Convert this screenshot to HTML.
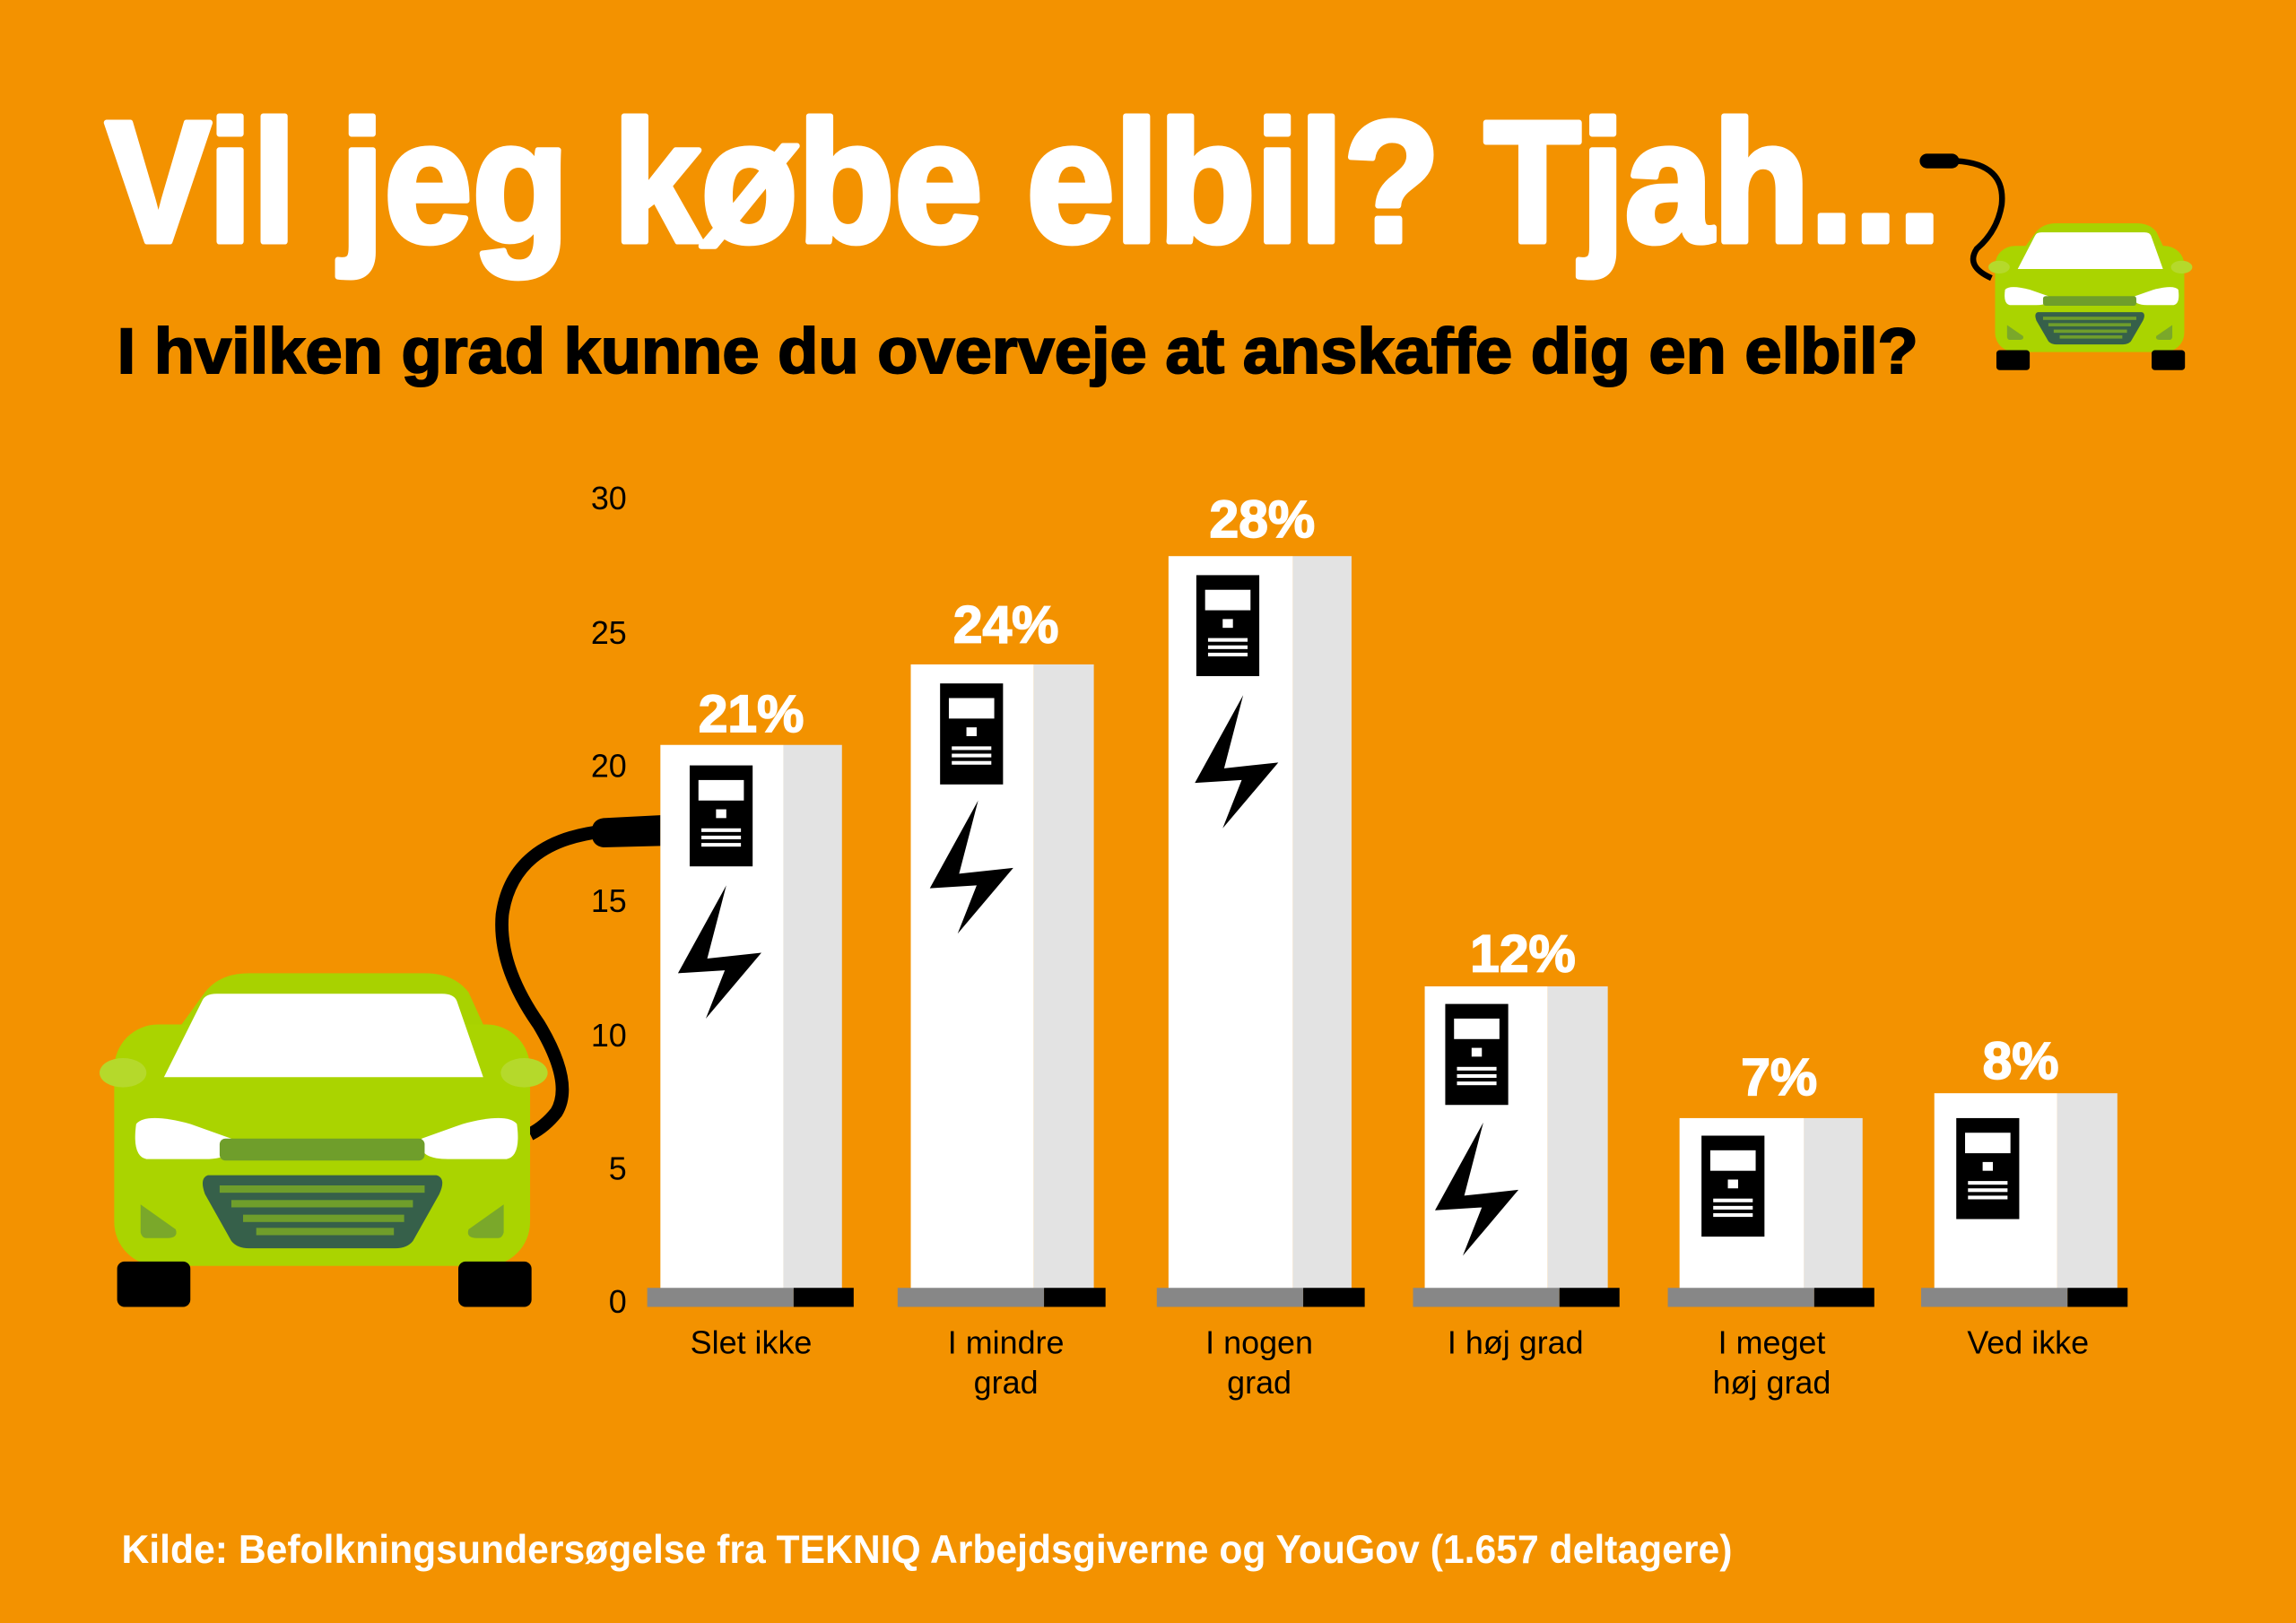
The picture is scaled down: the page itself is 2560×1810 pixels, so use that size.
<!DOCTYPE html>
<html><head><meta charset="utf-8"><style>
html,body{margin:0;padding:0;background:#f39200;}
svg{display:block;}
</style></head><body>
<svg width="2560" height="1810" viewBox="0 0 1568 1109" preserveAspectRatio="none" xmlns="http://www.w3.org/2000/svg" font-family="Liberation Sans, sans-serif">
<rect width="1568" height="1109" fill="#f39200"/>
<defs>
<g id="car">
  <path d="M100,733 L140,678 Q150,665 170,665 L290,665 Q310,665 320,678 L345,733 Z" fill="#a8d200"/>
  <rect x="78" y="700" width="284" height="165" rx="30" fill="#aad400"/>
  <path d="M112,736 L138,684 Q140,679 148,679 L302,679 Q310,679 312,684 L330,736 Z" fill="#fff"/>
  <ellipse cx="84" cy="733" rx="16" ry="10" fill="#b5d92b"/>
  <ellipse cx="358" cy="733" rx="16" ry="10" fill="#b5d92b"/>
  <path d="M93,768 Q100,760 130,768 L158,778 Q162,792 140,792 L100,792 Q90,790 93,768 Z" fill="#fff"/>
  <path d="M353,768 Q346,760 316,768 L288,778 Q284,792 306,792 L346,792 Q356,790 353,768 Z" fill="#fff"/>
  <rect x="150" y="778" width="140" height="15" rx="4" fill="#6f9e2b"/>
  <path d="M142,803 L298,803 Q305,805 300,816 L282,848 Q278,853 270,853 L170,853 Q162,853 158,848 L140,816 Q136,805 142,803 Z" fill="#36604a"/>
  <rect x="150" y="810" width="140" height="5" fill="#6f9e2b"/>
  <rect x="158" y="820" width="124" height="5" fill="#6f9e2b"/>
  <rect x="166" y="830" width="110" height="5" fill="#6f9e2b"/>
  <rect x="175" y="839" width="94" height="5" fill="#6f9e2b"/>
  <path d="M96,823 L120,840 Q122,846 114,846 L100,846 Q97,846 96,842 Z" fill="#7aa82a"/>
  <path d="M344,823 L320,840 Q318,846 326,846 L340,846 Q343,846 344,842 Z" fill="#7aa82a"/>
  <rect x="80" y="862" width="50" height="31" rx="5" fill="#000"/>
  <rect x="313" y="862" width="50" height="31" rx="5" fill="#000"/>
</g>
<g id="box">
  <rect x="0" y="0" width="43" height="69" fill="#000"/>
  <rect x="6" y="10" width="31" height="14" fill="#fff"/>
  <rect x="18" y="30" width="7" height="6" fill="#fff"/>
  <rect x="8" y="43" width="27" height="2.5" fill="#fff"/>
  <rect x="8" y="48" width="27" height="2.5" fill="#fff"/>
  <rect x="8" y="53" width="27" height="2.5" fill="#fff"/>
</g>
<path id="bolt" d="M33,0 L20,50 L57,46 L19,91 L32,58 L0,60 Z" fill="#000"/>
</defs>

<text x="72" y="165" font-size="118" font-weight="bold" fill="#fff" stroke="#fff" stroke-width="4" stroke-linejoin="round" textLength="1254" lengthAdjust="spacingAndGlyphs">Vil jeg købe elbil? Tjah...</text>
<text x="80" y="255" font-size="44" font-weight="bold" fill="#000" stroke="#000" stroke-width="1.2" textLength="1230" lengthAdjust="spacingAndGlyphs">I hvilken grad kunne du overveje at anskaffe dig en elbil?</text>

<path d="M1336,110 Q1370,112 1367,140 Q1364,158 1350,170 Q1342,182 1360,190" stroke="#000" stroke-width="4" fill="none"/>
<rect x="1311" y="105" width="27" height="10" rx="5" fill="#000"/>
<use href="#car" transform="translate(1327,-140) scale(0.455 0.44)"/>

<path d="M412,568 Q350,575 343,625 Q340,660 368,700 Q392,740 380,760 Q372,770 362,775" stroke="#000" stroke-width="9" fill="none"/>
<path d="M412,559 L451,557 L451,578 L412,579 Q404,578 404,569 Q404,560 412,559 Z" fill="#000"/>
<use href="#car"/>

<g font-size="22" fill="#000" text-anchor="end">
<text x="428" y="348">30</text>
<text x="428" y="440">25</text>
<text x="428" y="531">20</text>
<text x="428" y="623">15</text>
<text x="428" y="715">10</text>
<text x="428" y="806">5</text>
<text x="428" y="897">0</text>
</g>

<g>
<rect x="451" y="509" width="84" height="372" fill="#fff"/><rect x="535" y="509" width="40" height="372" fill="#e3e3e3"/>
<rect x="442" y="880" width="100" height="13" fill="#878787"/><rect x="542" y="880" width="41" height="13" fill="#000"/>
<use href="#box" x="471" y="523"/><use href="#bolt" x="463" y="605"/>

<rect x="622" y="454" width="84" height="427" fill="#fff"/><rect x="706" y="454" width="41" height="427" fill="#e3e3e3"/>
<rect x="613" y="880" width="100" height="13" fill="#878787"/><rect x="713" y="880" width="42" height="13" fill="#000"/>
<use href="#box" x="642" y="467"/><use href="#bolt" x="635" y="547"/>

<rect x="798" y="380" width="85" height="501" fill="#fff"/><rect x="883" y="380" width="40" height="501" fill="#e3e3e3"/>
<rect x="790" y="880" width="100" height="13" fill="#878787"/><rect x="890" y="880" width="42" height="13" fill="#000"/>
<use href="#box" x="817" y="393"/><use href="#bolt" x="816" y="475"/>

<rect x="973" y="674" width="84" height="207" fill="#fff"/><rect x="1057" y="674" width="41" height="207" fill="#e3e3e3"/>
<rect x="965" y="880" width="100" height="13" fill="#878787"/><rect x="1065" y="880" width="41" height="13" fill="#000"/>
<use href="#box" x="987" y="686"/><use href="#bolt" x="980" y="767"/>

<rect x="1147" y="764" width="85" height="117" fill="#fff"/><rect x="1232" y="764" width="40" height="117" fill="#e3e3e3"/>
<rect x="1139" y="880" width="100" height="13" fill="#878787"/><rect x="1239" y="880" width="41" height="13" fill="#000"/>
<use href="#box" x="1162" y="776"/>

<rect x="1321" y="747" width="84" height="134" fill="#fff"/><rect x="1405" y="747" width="41" height="134" fill="#e3e3e3"/>
<rect x="1312" y="880" width="100" height="13" fill="#878787"/><rect x="1412" y="880" width="41" height="13" fill="#000"/>
<use href="#box" x="1336" y="764"/>
</g>

<g font-size="36" font-weight="bold" fill="#fff" stroke="#fff" stroke-width="1" text-anchor="middle">
<text x="513" y="500">21%</text>
<text x="687" y="439">24%</text>
<text x="862" y="367">28%</text>
<text x="1040" y="664">12%</text>
<text x="1215" y="748">7%</text>
<text x="1380" y="737">8%</text>
</g>

<g font-size="22" fill="#000" text-anchor="middle">
<text x="513" y="925">Slet ikke</text>
<text x="687" y="925">I mindre</text><text x="687" y="952">grad</text>
<text x="860" y="925">I nogen</text><text x="860" y="952">grad</text>
<text x="1035" y="925">I høj grad</text>
<text x="1210" y="925">I meget</text><text x="1210" y="952">høj grad</text>
<text x="1385" y="925">Ved ikke</text>
</g>

<text x="83" y="1068" font-size="27" font-weight="bold" fill="#fff" textLength="1100" lengthAdjust="spacingAndGlyphs">Kilde: Befolkningsundersøgelse fra TEKNIQ Arbejdsgiverne og YouGov (1.657 deltagere)</text>
</svg>
</body></html>
